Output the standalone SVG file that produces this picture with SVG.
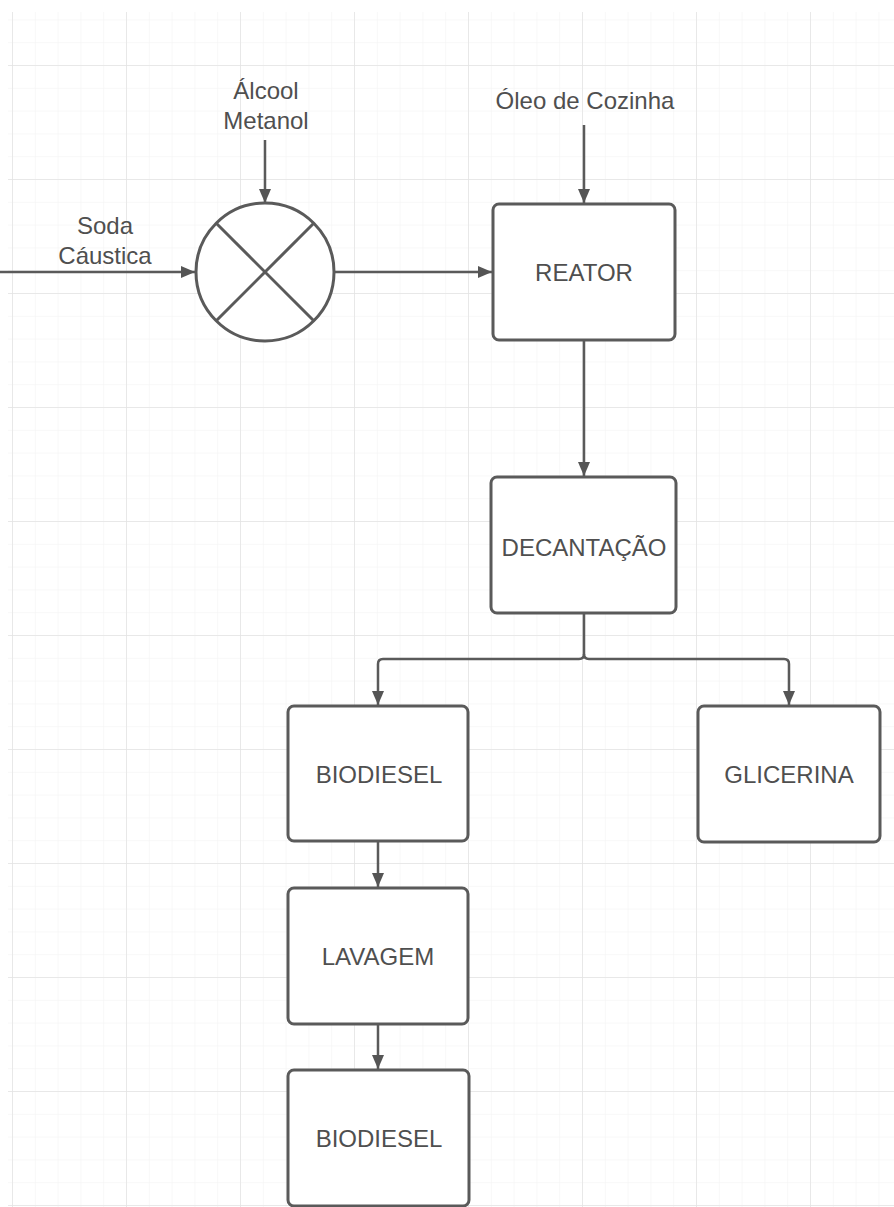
<svg xmlns="http://www.w3.org/2000/svg" width="894" height="1207" viewBox="0 0 894 1207">
<defs>
<pattern id="minor" x="12" y="65" width="22.8" height="22.8" patternUnits="userSpaceOnUse">
<path d="M0,0 H22.8 M0,0 V22.8" fill="none" stroke="#f2f2f2" stroke-width="1"/>
</pattern>
<pattern id="major" x="12" y="65" width="114" height="114" patternUnits="userSpaceOnUse">
<path d="M0,0 H114 M0,0 V114" fill="none" stroke="#e4e4e4" stroke-width="1.5"/>
</pattern>
<marker id="arr" markerWidth="14" markerHeight="12" refX="14" refY="6" orient="auto" markerUnits="userSpaceOnUse">
<path d="M0,0 L14,6 L0,12 z" fill="#555"/>
</marker>
<style>
.box{fill:#fff;stroke:#5a5a5a;stroke-width:3}
.lbl{font-family:"Liberation Sans",Arial,sans-serif;font-size:24px;fill:#4f4f4f;text-anchor:middle}
.con{fill:none;stroke:#5a5a5a;stroke-width:2.5}
</style>
</defs>
<rect width="894" height="1207" fill="#fff"/>
<rect x="8" y="12" width="886" height="1195" fill="url(#minor)"/>
<rect x="8" y="12" width="886" height="1195" fill="url(#major)"/>

<g id="connectors">
<line class="con" x1="0" y1="272" x2="195" y2="272" marker-end="url(#arr)"/>
<line class="con" x1="265" y1="140" x2="265" y2="203" marker-end="url(#arr)"/>
<line class="con" x1="335" y1="272" x2="492" y2="272" marker-end="url(#arr)"/>
<line class="con" x1="584" y1="125" x2="584" y2="203" marker-end="url(#arr)"/>
<line class="con" x1="584" y1="341" x2="584" y2="476" marker-end="url(#arr)"/>
<path class="con" d="M584,614 V654 Q584,659 579,659 H383 Q378,659 378,664 V705" marker-end="url(#arr)"/>
<path class="con" d="M584,654 Q584,659 589,659 H784 Q789,659 789,664 V705" marker-end="url(#arr)"/>
<line class="con" x1="378" y1="842" x2="378" y2="887" marker-end="url(#arr)"/>
<line class="con" x1="378" y1="1025" x2="378" y2="1069" marker-end="url(#arr)"/>
</g>

<g id="label-soda">
<text class="lbl" x="105" y="234">Soda</text>
<text class="lbl" x="105" y="264">Cáustica</text>
</g>
<g id="label-alcool">
<text class="lbl" x="266" y="99">Álcool</text>
<text class="lbl" x="266" y="129">Metanol</text>
</g>
<g id="label-oleo">
<text class="lbl" x="585" y="109">Óleo de Cozinha</text>
</g>

<g id="mixer">
<circle cx="265" cy="272" r="69" fill="#fff" stroke="#5a5a5a" stroke-width="3"/>
<line x1="216" y1="223" x2="314" y2="321" stroke="#5a5a5a" stroke-width="3"/>
<line x1="314" y1="223" x2="216" y2="321" stroke="#5a5a5a" stroke-width="3"/>
</g>

<g id="reator">
<rect class="box" x="493" y="204" width="182" height="136" rx="6"/>
<text class="lbl" x="584" y="281">REATOR</text>
</g>
<g id="decantacao">
<rect class="box" x="491" y="477" width="185" height="136" rx="6"/>
<text class="lbl" x="584" y="556">DECANTAÇÃO</text>
</g>
<g id="biodiesel1">
<rect class="box" x="288" y="706" width="180" height="135" rx="6"/>
<text class="lbl" x="379" y="783">BIODIESEL</text>
</g>
<g id="glicerina">
<rect class="box" x="698" y="706" width="182" height="136" rx="6"/>
<text class="lbl" x="789" y="783">GLICERINA</text>
</g>
<g id="lavagem">
<rect class="box" x="288" y="888" width="180" height="136" rx="6"/>
<text class="lbl" x="378" y="965">LAVAGEM</text>
</g>
<g id="biodiesel2">
<rect class="box" x="288" y="1070" width="181" height="136" rx="6"/>
<text class="lbl" x="379" y="1147">BIODIESEL</text>
</g>
</svg>
